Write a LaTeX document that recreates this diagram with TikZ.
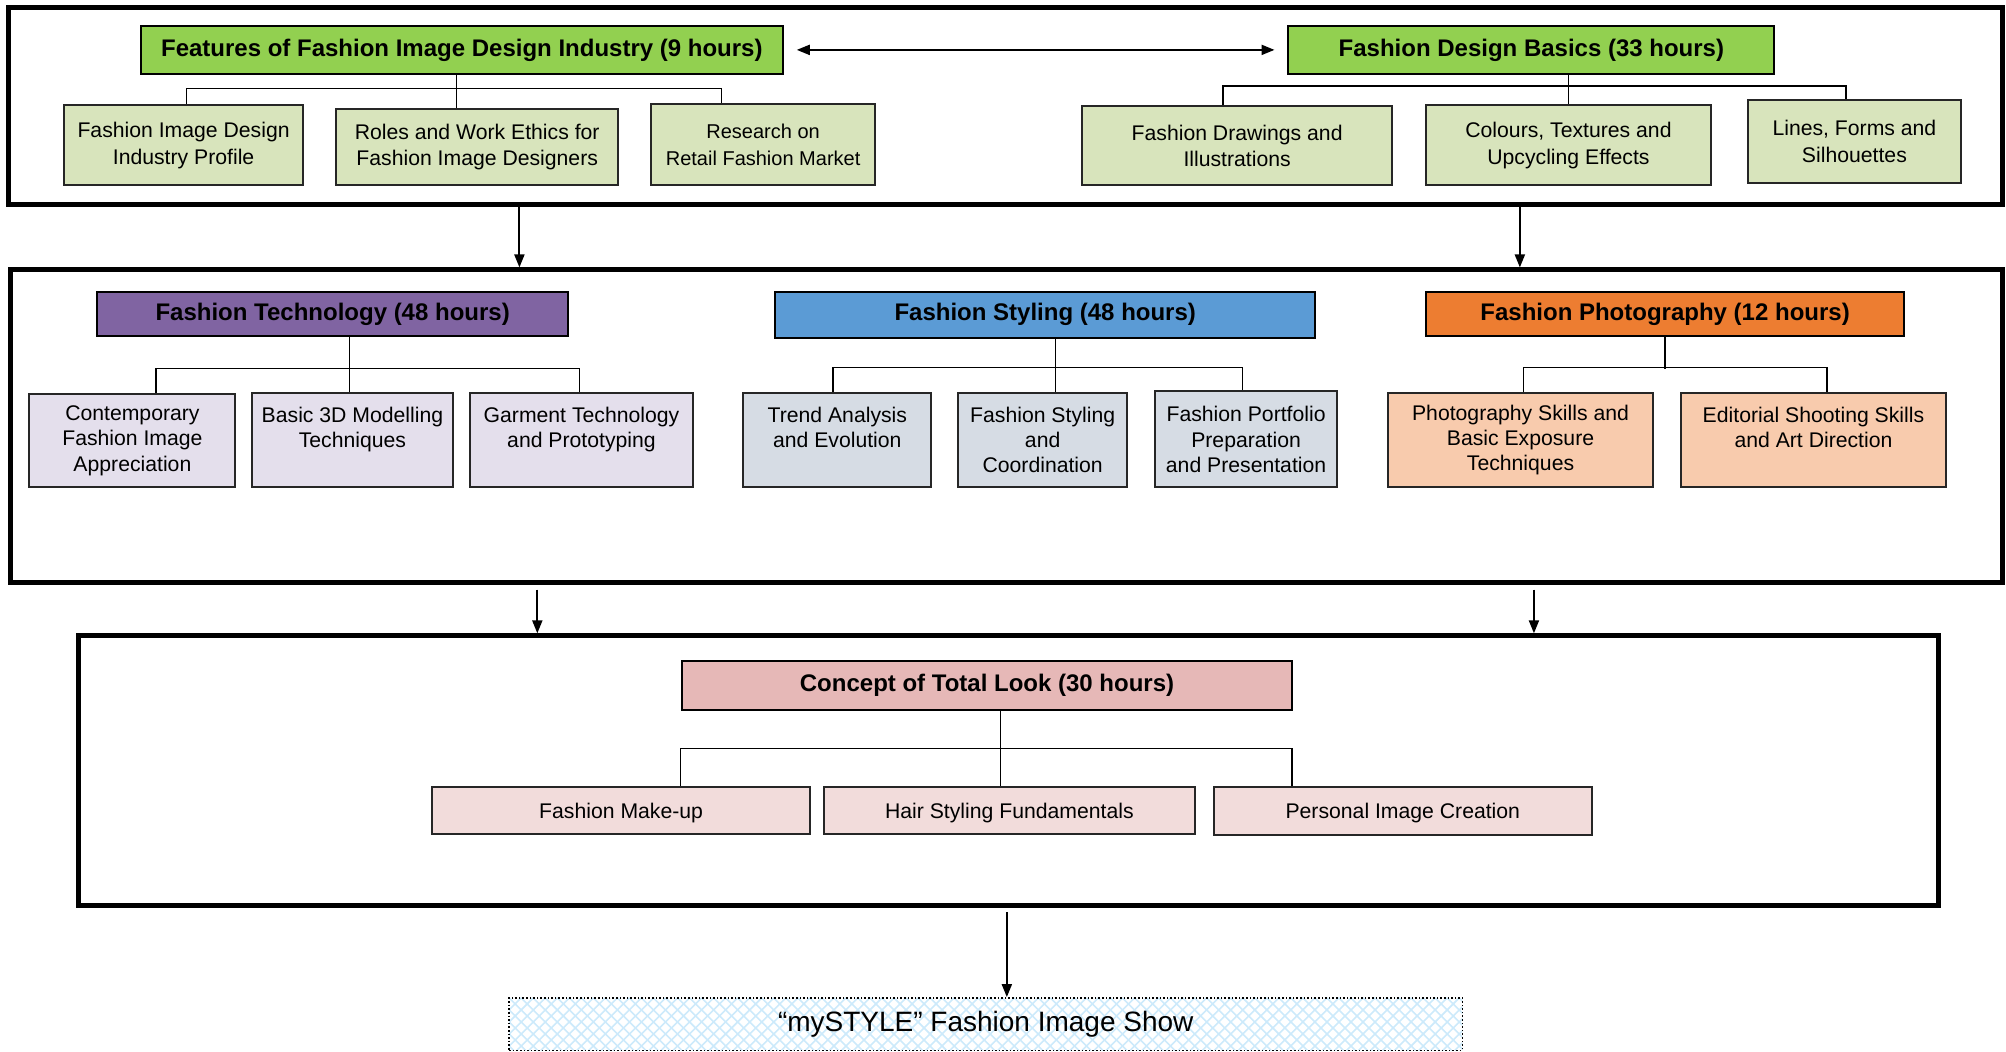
\documentclass[tikz,border=0pt]{standalone}
\usepackage{fontspec}
\setmainfont{Liberation Sans}
\usetikzlibrary{calc,arrows.meta}
\definecolor{tgreen}{HTML}{92D050}
\definecolor{lgreen}{HTML}{D8E4BC}
\definecolor{tpurple}{HTML}{8064A2}
\definecolor{lpurple}{HTML}{E4DFEC}
\definecolor{tblue}{HTML}{5B9BD5}
\definecolor{lblue}{HTML}{D6DCE4}
\definecolor{torange}{HTML}{ED7D31}
\definecolor{lorange}{HTML}{F8CBAD}
\definecolor{tpink}{HTML}{E6B8B7}
\definecolor{lpink}{HTML}{F2DCDB}
\definecolor{latticeblue}{HTML}{CDEAFB}
\newcommand\bx[7]{\node[#6,minimum width={(#4-#2)*0.6397pt},minimum height={(#5-#3)*0.6397pt}] (#1) at ({(#2+#4)/2},{(#3+#5)/2}) {#7};}
\begin{document}
\begin{tikzpicture}[x=0.6397pt,y=-0.6397pt,
  outer/.style={draw=black,line width=2.5pt,inner sep=0pt},
  title/.style={draw=black,line width=1pt,inner sep=1pt,font=\fontsize{12}{14}\selectfont\bfseries,align=center},
  sub/.style={draw=black!85,line width=1pt,inner sep=1pt,font=\fontsize{10.6}{13.4}\selectfont,align=center},
  subb/.style={sub,font=\fontsize{10.6}{12.6}\selectfont},
  subone/.style={sub,text depth=0pt},
  conn/.style={line width=0.7pt},
  arr/.style={line width=1pt,-{Triangle[length=6.5pt,width=5pt]}},
  dblarr/.style={line width=1pt,{Triangle[length=6.5pt,width=5pt]}-{Triangle[length=6.5pt,width=5pt]}},
  showbox/.style={draw=black,densely dotted,line width=0.8pt,inner sep=0pt,font=\fontsize{14}{16}\selectfont},
  latt/.style={draw=latticeblue,line width=0.8pt}]
\useasboundingbox (0,0) rectangle (1568,822);
% outer frames
\bx{B1}{7}{6}{1565}{160}{outer}{}
\bx{B2}{8}{211}{1565}{455}{outer}{}
\bx{B3}{61}{497}{1515}{708}{outer}{}
% box 1
\bx{F1}{110}{20}{612}{58}{title,fill=tgreen}{Features of Fashion Image Design Industry (9 hours)}
\bx{F2}{1007}{20}{1387}{58}{title,fill=tgreen}{Fashion Design Basics (33 hours)}
\bx{c1}{50}{82}{237}{145}{sub,fill=lgreen}{Fashion Image Design\\Industry Profile}
\bx{c2}{263}{85}{483}{145}{sub,fill=lgreen}{Roles and Work Ethics for\\Fashion Image Designers}
\bx{c3}{509}{81}{684}{145}{sub,fill=lgreen,font=\fontsize{10}{13.4}\selectfont}{Research on\\Retail Fashion Market}
\bx{d1}{846}{83}{1088}{145}{sub,fill=lgreen}{Fashion Drawings and\\Illustrations}
\bx{d2}{1115}{82}{1337}{145}{sub,fill=lgreen}{Colours, Textures and\\Upcycling Effects}
\bx{d3}{1366}{78}{1533}{143}{sub,fill=lgreen}{Lines, Forms and\\Silhouettes}
% box 2
\bx{T}{76}{228}{444}{263}{title,fill=tpurple}{Fashion Technology (48 hours)}
\bx{t1}{23}{308}{184}{381}{subb,fill=lpurple}{Contemporary\\Fashion Image\\Appreciation}
\bx{t2}{197}{307}{354}{381}{subb,fill=lpurple}{Basic 3D Modelling\\Techniques\\~}
\bx{t3}{367}{307}{542}{381}{subb,fill=lpurple}{Garment Technology\\and Prototyping\\~}
\bx{S}{606}{228}{1028}{264}{title,fill=tblue}{Fashion Styling (48 hours)}
\bx{s1}{581}{307}{728}{381}{subb,fill=lblue}{Trend Analysis\\and Evolution\\~}
\bx{s2}{749}{307}{881}{381}{subb,fill=lblue}{Fashion Styling\\and\\Coordination}
\bx{s3}{903}{306}{1045}{381}{subb,fill=lblue}{Fashion Portfolio\\Preparation\\and Presentation}
\bx{P}{1115}{228}{1488}{263}{title,fill=torange}{Fashion Photography (12 hours)}
\bx{p1}{1085}{307}{1292}{381}{subb,fill=lorange}{Photography Skills and\\Basic Exposure\\Techniques}
\bx{p2}{1314}{307}{1521}{381}{subb,fill=lorange}{Editorial Shooting Skills\\and Art Direction\\~}
% box 3
\bx{C}{533}{517}{1010}{555}{title,fill=tpink}{Concept of Total Look (30 hours)}
\bx{m1}{338}{615}{633}{652}{subone,fill=lpink}{Fashion Make-up}
\bx{m2}{644}{615}{934}{652}{subone,fill=lpink}{Hair Styling Fundamentals}
\bx{m3}{949}{615}{1244}{653}{subone,fill=lpink}{Personal Image Creation}
% final show box with lattice fill
\begin{scope}
  \clip (398,780) rectangle (1143,821);
  \foreach \i in {-6,...,86} {
    \draw[latt] ({398+\i*9.4},780) -- ++(41,41);
    \draw[latt] ({398+\i*9.4},780) -- ++(-41,41);
  }
\end{scope}
\bx{show}{398}{780}{1143}{821}{showbox}{“mySTYLE” Fashion Image Show}
% tree connectors, box 1
\coordinate (f1v) at ($(F1.south)+(-4,0)$);
\draw[conn] (f1v) -- (f1v |- c2.north);
\draw[conn] ($(c1.north)+(2.5,0)$) -- ++(0,-12) -| ($(c3.north)+(-32.5,0)$);
\coordinate (f2v) at ($(F2.south)+(29,0)$);
\draw[conn] (f2v) -- (f2v |- d2.north);
\draw[conn] ($(d1.north)+(-11,0)$) -- ++(0,-15) -| ($(d3.north)+(-6.5,0)$);
% box 2
\coordinate (tv) at ($(T.south)+(13,0)$);
\draw[conn] (tv) -- (tv |- t2.north);
\draw[conn] ($(t1.north)+(18.5,0)$) -- ++(0,-19) -| ($(t3.north)+(-1.5,0)$);
\coordinate (sv) at ($(S.south)+(8,0)$);
\draw[conn] (sv) -- (sv |- s2.north);
\draw[conn] ($(s1.north)+(-3.5,0)$) -- ++(0,-19) -| ($(s3.north)+(-3,0)$);
\draw[conn] (P.south) -- ++(0,25);
\draw[conn] ($(p1.north)+(2.5,0)$) -- ++(0,-19) -| ($(p2.north)+(10.5,0)$);
% box 3
\coordinate (cv) at ($(C.south)+(10.5,0)$);
\draw[conn] (cv) -- (cv |- m2.north);
\draw[conn] ($(m1.north)+(46.5,0)$) -- ++(0,-29) -| ($(m3.north)+(-86.5,0)$);
% arrows
\draw[dblarr] ($(F1.east)+(10,0)$) -- ($(F2.west)+(-10,0)$);
\coordinate (xa) at (406,0);
\coordinate (xb) at (1188,0);
\coordinate (xc) at (420,0);
\coordinate (xd) at (1199,0);
\coordinate (xe) at (787,0);
\draw[arr] (B1.south -| xa) -- (B2.north -| xa);
\draw[arr] (B1.south -| xb) -- (B2.north -| xb);
\draw[arr] ($(B2.south -| xc)+(0,4)$) -- (B3.north -| xc);
\draw[arr] ($(B2.south -| xd)+(0,4)$) -- (B3.north -| xd);
\draw[arr] ($(B3.south -| xe)+(0,3)$) -- (show.north -| xe);
\end{tikzpicture}
\end{document}
